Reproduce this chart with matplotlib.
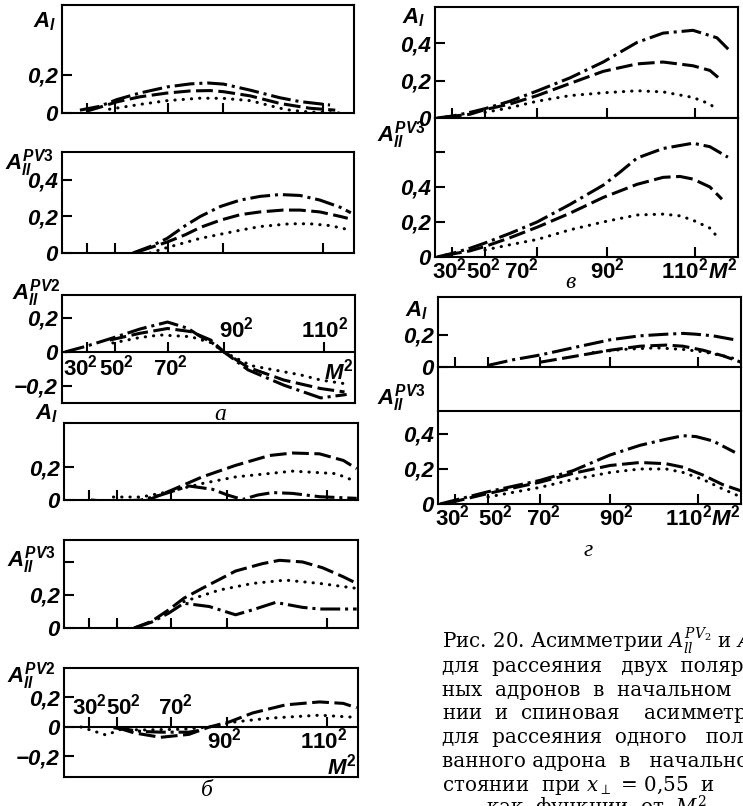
import numpy as np
import matplotlib
matplotlib.use('Agg')
import matplotlib.pyplot as plt
from matplotlib.transforms import offset_copy

# figure size in pixels (dpi 100)
W, H = 743, 806

plt.rcParams['mathtext.fontset'] = 'custom'
plt.rcParams['mathtext.it'] = 'Liberation Sans:italic:bold'
plt.rcParams['mathtext.rm'] = 'Liberation Sans:bold'
plt.rcParams['mathtext.default'] = 'it'

LAB = dict(family='Liberation Sans', style='italic', weight='bold')

# x axis is M^2, drawn with the book's uneven spacing of the ticks
tick_m2 = [900, 2500, 4900, 8100, 12100]
tick_names = ['$30^2$', '$50^2$', '$70^2$', '$90^2$', '$110^2$']
left_m2 = [0, 900, 2500, 4900, 8100, 12100, 13300]
left_frac = [0, .085, .18, .363, .553, .893, 1]
right_m2 = [0, 900, 2500, 4900, 8100, 12100, 14060]
right_frac = [0, .056, .165, .337, .568, .858, 1]

# ---- data, (M^2, asymmetry) ----
# а : A_l, A_ll^PV3, A_ll^PV2
a_Al_dashdot = [(650, .015), (1640, .035), (2590, .07), (3630, .105), (4860, .137), (6180, .153),
                (7170, .158), (8100, .152), (9180, .12), (10380, .08), (11180, .06), (12380, .042)]
a_Al_dashed = [(900, .01), (1640, .03), (2590, .058), (3630, .085), (4860, .105), (6180, .116),
               (7340, .118), (8100, .112), (9180, .09), (10380, .05), (11580, .025), (12580, .015)]
a_Al_dotted = [(2210, .02), (3630, .045), (4860, .065), (6760, .078), (8100, .077), (9180, .065),
               (10380, .025), (10780, .015), (11580, .005), (12780, 0)]

a_PV3_dashdot = [(3320, 0), (4090, .035), (4860, .08), (5900, .15), (6760, .2), (7930, .255), (8780, .29),
                 (9580, .31), (10380, .32), (11180, .315), (11980, .29), (12780, .25), (13180, .22)]
a_PV3_dashed = [(3630, .01), (4860, .06), (5900, .1), (6760, .14), (7930, .18), (8780, .21), (9580, .225),
                (10500, .235), (11180, .235), (11980, .225), (12780, .2), (13060, .19)]
a_PV3_dotted = [(4090, 0), (4860, .03), (6760, .08), (8780, .125), (9580, .145), (10780, .16),
                (11580, .16), (12380, .15), (13180, .125)]

a_PV2_dashdot = [(108, 0), (900, .035), (2590, .09), (3630, .135), (4860, .176), (6000, .14), (6760, .09),
                 (7340, .06), (8100, 0), (9060, -.105), (10500, -.195), (11980, -.27), (12980, -.25)]
a_PV2_dashed = [(2210, .07), (3630, .11), (4860, .138), (6180, .12), (7340, .07), (8100, 0),
                (9060, -.09), (10500, -.165), (11980, -.215), (12900, -.235)]
a_PV2_dotted = [(2390, .053), (3630, .085), (4540, .1), (6180, .09), (7340, .055), (8100, 0),
                (9180, -.08), (11180, -.135), (11980, -.165), (13060, -.19)]

# б
b_Al_dashdot = [(1010, 0), (2150, -.01), (3580, 0), (4450, .03), (5940, .085), (7290, .065), (8140, .03),
                (8740, .003), (9340, .03), (9940, .045), (10740, .04), (11820, .02), (13250, .01)]
b_Al_dashed = [(1580, -.012), (2820, -.04), (3900, 0), (4960, .06), (6700, .14), (8460, .21),
               (9820, .27), (10740, .285), (11820, .28), (12740, .24), (13250, .19)]
b_Al_dotted = [(2300, .018), (3580, .018), (4810, .05), (6700, .1), (8460, .14), (10740, .175),
               (12460, .16), (13100, .12)]

b_PV3_dashdot = [(3270, 0), (4040, .035), (4810, .09), (5650, .15), (7110, .13), (8460, .08), (9140, .11),
                 (10060, .155), (11140, .125), (11820, .115), (13250, .115)]
b_PV3_dashed = [(3270, 0), (4040, .04), (4810, .11), (5650, .18), (6700, .24), (8460, .345), (9540, .39),
                (10220, .41), (11140, .4), (11940, .365), (12740, .31), (13250, .27)]
b_PV3_dotted = [(5650, .16), (7690, .23), (9140, .27), (10460, .29), (11820, .27), (13250, .24)]

b_PV2_dashdot = [(2300, -.005), (3580, -.03), (4450, -.035), (5940, -.035), (6700, -.02)]
b_PV2_dashed = [(2520, -.005), (3270, -.04), (4450, -.07), (5940, -.05), (7110, 0), (8220, .035),
                (9140, .095), (10460, .15), (11820, .17), (12740, .16), (13250, .13)]
b_PV2_dotted = [(610, 0), (1890, -.055), (2680, -.015), (3580, -.02), (5600, -.015), (7110, 0),
                (8460, .035), (9820, .06), (11820, .08), (13250, .065)]

# в
v_Al_dashdot = [(106, 0), (900, .01), (1770, .03), (2500, .05), (3650, .09), (4900, .145), (6400, .215),
                (7920, .3), (9460, .405), (10650, .455), (12010, .47), (13100, .43), (13690, .36)]
v_Al_dashed = [(530, .005), (1770, .02), (2500, .045), (3650, .075), (4900, .12), (6400, .185),
               (7920, .25), (9460, .29), (10650, .3), (12010, .28), (12780, .255), (13330, .2)]
v_Al_dotted = [(2500, .03), (3650, .055), (4900, .09), (6400, .12), (7920, .135), (9460, .146),
               (10650, .14), (12010, .11), (12780, .075), (13150, .04)]

v_PV3_dashdot = [(106, 0), (900, .02), (1770, .05), (2500, .08), (3650, .135), (4900, .2), (6400, .3),
                 (7920, .41), (8690, .485), (9460, .565), (10650, .62), (12010, .65), (12780, .63), (13600, .57)]
v_PV3_dashed = [(530, .01), (1770, .035), (2500, .06), (3650, .11), (4900, .17), (6400, .25), (7920, .34),
                (9460, .415), (10650, .455), (11420, .46), (12010, .445), (12780, .4), (13330, .33)]
v_PV3_dotted = [(2500, .04), (3650, .07), (4900, .1), (6400, .155), (7920, .2), (9460, .24),
                (10650, .245), (11420, .235), (12010, .21), (12780, .165), (13150, .11)]

# г
g_Al_dashdot = [(2500, .01), (3650, .045), (4900, .075), (6400, .12), (8100, .17), (9460, .195),
                (10650, .205), (11420, .21), (12010, .205), (12780, .195), (13780, .17)]
g_Al_dashed = [(4900, .03), (6400, .065), (8100, .105), (9460, .13), (10650, .137), (11420, .13),
               (12330, .105), (13240, .07), (14060, .03)]
g_Al_dotted = [(7320, .09), (8690, .11), (10180, .12), (11420, .11), (12330, .095), (13240, .07), (14010, .045)]

g_PV3_dashdot = [(106, 0), (2500, .07), (4900, .135), (6400, .19), (8100, .28), (9460, .335),
                 (10650, .37), (11420, .39), (12010, .385), (12780, .36), (13780, .295)]
g_PV3_dashed = [(530, .005), (2500, .06), (4900, .125), (6400, .175), (8100, .22), (9460, .237),
                (10650, .23), (11420, .21), (12330, .165), (13240, .11), (14060, .075)]
g_PV3_dotted = [(2500, .04), (4900, .095), (6400, .14), (8100, .18), (9460, .2), (10650, .2),
                (11420, .18), (12330, .14), (13240, .085), (14060, .04)]

caption = [
    r'Рис. 20. Асимметрии $A^{PV_2}_{ll}$ и $A^{PV_3}_{ll}$',
    'для  рассеяния   двух  поляризован-',
    'ных  адронов  в  начальном  состоя-',
    r'нии  и  спиновая    асимметрия $A_l$',
    'для  рассеяния  одного   поляризо-',
    'ванного адрона  в   начальном  со-',
    r'стоянии  при $x_\perp\,=\,0{,}55$  и',
]
caption_last = r'как  функции  от  $M^2$'

STY = {
    'dashdot': dict(ls=(0, (6.5, 1.6, 1, 1.6))),
    'dashed': dict(ls=(0, (5.5, 1.8))),
    'dotted': dict(ls=(0, (0.1, 2.6)), dash_capstyle='round'),
}

fig = plt.figure(figsize=(W / 100, H / 100), dpi=100)
fig.patch.set_facecolor('white')


def panel(l, t, r, b, anchors, ylim, yt, ylab, zero_axis=False):
    ax = fig.add_axes([l / W, 1 - b / H, (r - l) / W, (b - t) / H])
    m2, fr = anchors
    ax.set_xscale('function', functions=(lambda x: np.interp(x, m2, fr),
                                         lambda f: np.interp(f, fr, m2)))
    ax.set_xlim(m2[0], m2[-1])
    ax.set_ylim(*ylim)
    ax.set_xticks(tick_m2)
    ax.set_xticks([], minor=True)
    ax.set_yticks(yt, ylab, size=16, **LAB)
    ax.set_yticks([], minor=True)
    ax.tick_params(direction='in', length=7, width=1.5, labelbottom=False, pad=3)
    for s in ax.spines.values():
        s.set_linewidth(1.5)
    if zero_axis:
        ax.spines['bottom'].set_position(('data', 0))
        ax.plot([0, 1], [0, 0], transform=ax.transAxes, color='k', lw=1.5, clip_on=False)
    return ax


def curves(ax, dd, da, do):
    for pts, key in ((dd, 'dashdot'), (da, 'dashed'), (do, 'dotted')):
        x, y = zip(*pts)
        ax.plot(x, y, color='black', lw=2.2, solid_capstyle='butt', **STY[key])


def strip(l, t, r, b):
    ax = fig.add_axes([l / W, 1 - b / H, (r - l) / W, (b - t) / H])
    ax.set_xticks([])
    ax.set_yticks([])
    ax.patch.set_alpha(0)
    for k, s in ax.spines.items():
        s.set_linewidth(1.5)
        s.set_visible(k in ('left', 'right'))


def ylabel(txt, x, y):
    fig.text(x / W, 1 - y / H, txt, ha='left', va='center', size=16, **LAB)


def xlabels(ax, ys, shifts, mlab_pos):
    # shifts: small pixel nudges of each label from its tick, as in the book
    for m2, name, yy, dx in zip(tick_m2, tick_names, ys, shifts):
        tr = offset_copy(ax.transData, fig=fig, x=dx, y=0, units='dots')
        ax.text(m2, yy, name, ha='center', va='center', size=16, transform=tr, **LAB)
    ax.text(*mlab_pos, '$M^2$', ha='right', va='center', size=16, **LAB)


def letter(ch, x, y):
    fig.text(x / W, 1 - y / H, ch, ha='center', va='center', size=17,
             family='Liberation Serif', style='italic')


L = (left_m2, left_frac)
R = (right_m2, right_frac)

# ---- а ----
ax = panel(62, 5, 354, 113, L, (0, .568), [0, .2], ['0', '0,2'])
curves(ax, a_Al_dashdot, a_Al_dashed, a_Al_dotted)
ylabel('$A_l$', 33, 22)

ax = panel(62, 152, 354, 253, L, (0, .553), [0, .2, .4], ['0', '0,2', '0,4'])
curves(ax, a_PV3_dashdot, a_PV3_dashed, a_PV3_dotted)
ylabel('$A_{ll}^{PV3}$', 5, 163)

ax = panel(62, 295, 355, 403, L, (-.3, .335), [-.2, 0, .2], ['−0,2', '0', '0,2'], zero_axis=True)
curves(ax, a_PV2_dashdot, a_PV2_dashed, a_PV2_dotted)
xlabels(ax, [-.09, -.09, -.09, .13, .13], [-6, 2, 2, 12, 1], (13250, -.118))
ylabel('$A_{ll}^{PV2}$', 12, 293)
letter('а', 220, 415)

# ---- б ----
ax = panel(64, 423, 358, 500, L, (0, .467), [0, .2], ['0', '0,2'])
curves(ax, b_Al_dashdot, b_Al_dashed, b_Al_dotted)
ylabel('$A_l$', 35, 414)

ax = panel(64, 540, 358, 628, L, (0, .533), [0, .2, .4], ['0', '0,2', ''])
curves(ax, b_PV3_dashdot, b_PV3_dashed, b_PV3_dotted)
ylabel('$A_{ll}^{PV3}$', 7, 560)

ax = panel(64, 668, 358, 777, L, (-.339, .4), [-.2, 0, .2], ['−0,2', '0', '0,2'], zero_axis=True)
curves(ax, b_PV2_dashdot, b_PV2_dashed, b_PV2_dotted)
xlabels(ax, [.136, .136, .136, -.09, -.09], [0, 7, 5, -2, -3], (13250, -.27))
ylabel('$A_{ll}^{PV2}$', 7, 676)
letter('б', 207, 790)

# ---- в ----
ax = panel(435, 7, 738, 118, R, (0, .595), [0, .2, .4], ['0', '0,2', '0,4'])
curves(ax, v_Al_dashdot, v_Al_dashed, v_Al_dotted)
ylabel('$A_l$', 402, 18)

ax = panel(435, 118, 738, 257, R, (0, .794), [0, .2, .4, .6], ['0', '0,2', '0,4', ''])
curves(ax, v_PV3_dashdot, v_PV3_dashed, v_PV3_dotted)
ylabel('$A_{ll}^{PV3}$', 377, 135)
xlabels(ax, [-.075] * 5, [-2, -2, -16, 0, -10], (14100, -.075))
letter('в', 570, 283)

# ---- г ----
ax = panel(438, 297, 741, 367, R, (0, .4375), [0, .2], ['0', '0,2'])
curves(ax, g_Al_dashdot, g_Al_dashed, g_Al_dotted)
ylabel('$A_l$', 405, 311)

strip(438, 367, 741, 411)

ax = panel(438, 411, 741, 504, R, (0, .531), [0, .2, .4], ['0', '0,2', '0,4'])
curves(ax, g_PV3_dashdot, g_PV3_dashed, g_PV3_dotted)
ylabel('$A_{ll}^{PV3}$', 377, 398)
xlabels(ax, [-.08] * 5, [-2, 7, 3, 6, -9], (14100, -.08))
letter('г', 588, 550)

# ---- caption ----
for i, line in enumerate(caption):
    fig.text(442 / W, 1 - (648 + 23.8 * i) / H, line, ha='left', va='baseline', size=14.3,
             family='DejaVu Serif', math_fontfamily='dejavuserif')
fig.text(486 / W, 1 - (648 + 23.8 * 7) / H, caption_last, ha='left', va='baseline', size=14.3,
         family='DejaVu Serif', math_fontfamily='dejavuserif')

fig.savefig('out.png', dpi=100, facecolor='white')
